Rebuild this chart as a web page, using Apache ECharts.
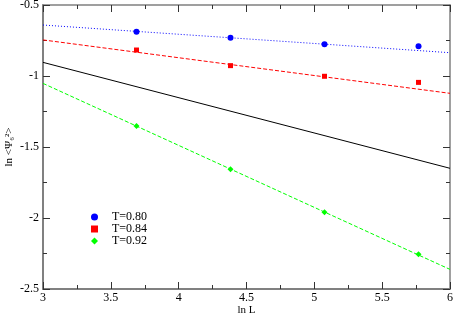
<!DOCTYPE html>
<html><head><meta charset="utf-8">
<script src="https://cdn.jsdelivr.net/npm/echarts@6/dist/echarts.min.js"></script>
<style>html,body{margin:0;padding:0;background:#fff}#c{width:453px;height:315px}</style>
</head><body><div id="c"></div>
<script>
const lnL = [3.689, 4.382, 5.075, 5.768];
const t080 = [-0.688, -0.730, -0.777, -0.791];
const t084 = [-0.817, -0.927, -1.002, -1.045];
const t092 = [-1.352, -1.657, -1.960, -2.256];
const fitX = [3, 6];
const fit080 = [-0.641, -0.836];
const fit084 = [-0.746, -1.122];
const fit092 = [-1.052, -2.362];
const refLine = [-0.904, -1.650];
const legendNames = ['T=0.80', 'T=0.84', 'T=0.92'];

const font = 'Liberation Serif';
const axisCol = '#808080';
const pts = (xs, ys) => xs.map((x, i) => [x, ys[i]]);

const chart = echarts.init(document.getElementById('c'));
const tickCommon = {inside: true, length: 7, lineStyle: {color: '#333', width: 1}};
const minorCommon = {show: true, splitNumber: 2, length: 4, lineStyle: {color: '#333', width: 1}};
chart.setOption({
  animation: false,
  grid: {left: 43, right: 3, top: 5, bottom: 26, containLabel: false, outerBoundsMode: 'none'},
  xAxis: [{
    type: 'value', min: 3, max: 6, interval: 0.5,
    name: 'ln L', nameLocation: 'middle', nameGap: 16, nameMoveOverlap: false,
    nameTextStyle: {fontFamily: font, fontSize: 11, color: '#000'},
    axisLine: {show: true, lineStyle: {color: axisCol, width: 2}},
    axisTick: tickCommon, minorTick: minorCommon,
    splitLine: {show: false},
    axisLabel: {fontFamily: font, fontSize: 12, color: '#000', margin: 3,
      formatter: v => String(v)}
  }, {
    type: 'value', min: 3, max: 6, interval: 0.5, position: 'top',
    axisLine: {show: true, lineStyle: {color: axisCol, width: 1.5}},
    axisTick: tickCommon, minorTick: minorCommon,
    splitLine: {show: false}, axisLabel: {show: false}
  }],
  yAxis: [{
    type: 'value', min: -2.5, max: -0.5, interval: 0.5,
    name: 'ln <Ψ₆²>', nameLocation: 'middle', nameGap: 28, nameRotate: 90, nameMoveOverlap: false,
    nameTextStyle: {fontFamily: font, fontSize: 11, color: '#000'},
    axisLine: {show: true, lineStyle: {color: axisCol, width: 2}},
    axisTick: tickCommon, minorTick: minorCommon,
    splitLine: {show: false},
    axisLabel: {fontFamily: font, fontSize: 12, color: '#000', margin: 4,
      formatter: v => String(v)}
  }, {
    type: 'value', min: -2.5, max: -0.5, interval: 0.5, position: 'right',
    axisLine: {show: true, lineStyle: {color: axisCol, width: 1.5}},
    axisTick: tickCommon, minorTick: minorCommon,
    splitLine: {show: false}, axisLabel: {show: false}
  }],
  legend: {
    orient: 'vertical', left: 91, top: 211, itemGap: 0, padding: 0,
    itemWidth: 7, itemHeight: 7,
    textStyle: {fontFamily: font, fontSize: 12, color: '#000', padding: [0, 0, 0, 9]},
    data: [
      {name: legendNames[0], icon: 'circle'},
      {name: legendNames[1], icon: 'rect'},
      {name: legendNames[2], icon: 'diamond'}
    ]
  },
  series: [
    {type: 'line', data: pts(fitX, fit080), showSymbol: false, symbol: 'none',
     lineStyle: {color: '#0000ff', width: 1, type: [1, 2]}, silent: true, z: 1},
    {type: 'line', data: pts(fitX, fit084), showSymbol: false, symbol: 'none',
     lineStyle: {color: '#ff0000', width: 1, type: [4, 2]}, silent: true, z: 1},
    {type: 'line', data: pts(fitX, fit092), showSymbol: false, symbol: 'none',
     lineStyle: {color: '#00ff00', width: 1, type: [4, 2]}, silent: true, z: 1},
    {type: 'line', data: pts(fitX, refLine), showSymbol: false, symbol: 'none',
     lineStyle: {color: '#000', width: 1}, silent: true, z: 1},
    {name: legendNames[0], type: 'scatter', data: pts(lnL, t080), symbol: 'circle', symbolSize: 6,
     itemStyle: {color: '#0000ff', opacity: 1}, z: 3},
    {name: legendNames[1], type: 'scatter', data: pts(lnL, t084), symbol: 'rect', symbolSize: 5,
     itemStyle: {color: '#ff0000', opacity: 1}, z: 3},
    {name: legendNames[2], type: 'scatter', data: pts(lnL, t092), symbol: 'diamond', symbolSize: 6,
     itemStyle: {color: '#00ff00', opacity: 1}, z: 3}
  ]
});
</script></body></html>
